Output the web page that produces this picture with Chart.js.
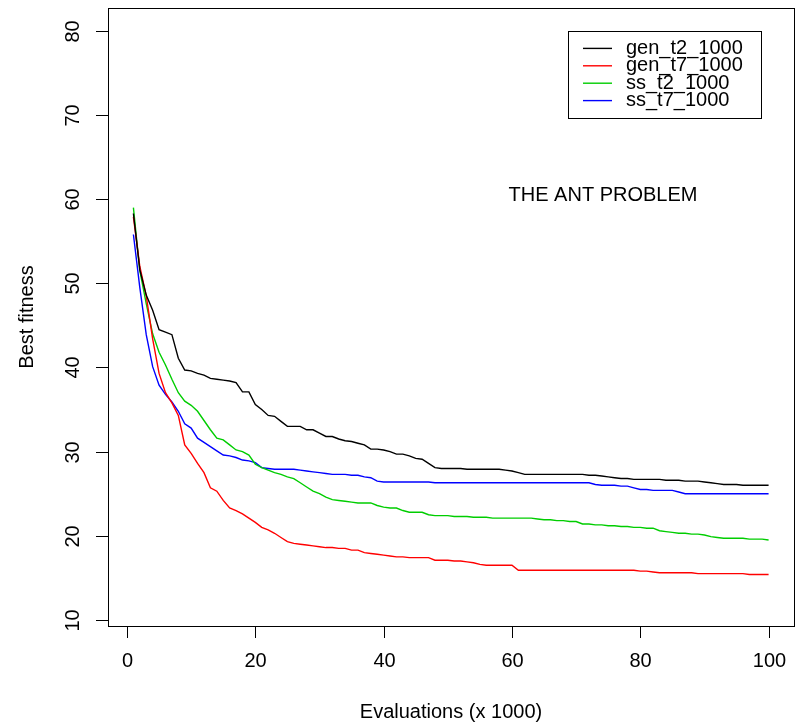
<!DOCTYPE html>
<html lang="en">
<head>
  <meta charset="UTF-8">
  <title>The Ant Problem - best fitness</title>
  <script src="https://cdn.jsdelivr.net/npm/chart.js"></script>
  <style>
    html, body { margin: 0; padding: 0; background: #ffffff; }
    #wrap { width: 796px; height: 724px; }
  </style>
</head>
<body>
  <div id="wrap">
    <canvas id="fitnessChart" width="796" height="724"></canvas>
  </div>

  <script>
    // Evaluations (x 1000) at which the best fitness was recorded
    const evaluations = [
      1, 2, 3, 4, 5, 6, 7, 8, 9, 10, 11, 12, 13, 14, 15, 16, 17, 18, 19, 20,
      21, 22, 23, 24, 25, 26, 27, 28, 29, 30, 31, 32, 33, 34, 35, 36, 37, 38, 39, 40,
      41, 42, 43, 44, 45, 46, 47, 48, 49, 50, 51, 52, 53, 54, 55, 56, 57, 58, 59, 60,
      61, 62, 63, 64, 65, 66, 67, 68, 69, 70, 71, 72, 73, 74, 75, 76, 77, 78, 79, 80,
      81, 82, 83, 84, 85, 86, 87, 88, 89, 90, 91, 92, 93, 94, 95, 96, 97, 98, 99, 100
    ];

    const genT2 = [
      58.3, 51.6, 48.6, 46.8, 44.5, 44.2, 43.9, 41.1, 39.7, 39.6,
      39.3, 39.1, 38.7, 38.6, 38.5, 38.4, 38.2, 37.1, 37.1, 35.6,
      35.0, 34.3, 34.2, 33.6, 33.0, 33.0, 33.0, 32.6, 32.6, 32.2,
      31.8, 31.8, 31.5, 31.3, 31.2, 31.0, 30.8, 30.3, 30.3, 30.2,
      30.0, 29.7, 29.7, 29.5, 29.2, 29.1, 28.6, 28.1, 28.0, 28.0,
      28.0, 28.0, 27.9, 27.9, 27.9, 27.9, 27.9, 27.9, 27.8, 27.7,
      27.5, 27.3, 27.3, 27.3, 27.3, 27.3, 27.3, 27.3, 27.3, 27.3,
      27.3, 27.2, 27.2, 27.1, 27.0, 26.9, 26.8, 26.8, 26.7, 26.7,
      26.7, 26.7, 26.7, 26.6, 26.6, 26.6, 26.5, 26.5, 26.5, 26.4,
      26.3, 26.2, 26.1, 26.1, 26.1, 26.0, 26.0, 26.0, 26.0, 26.0
    ];

    const genT7 = [
      57.9, 52.0, 48.5, 43.4, 39.3, 37.0, 35.8, 34.3, 30.8, 29.8,
      28.6, 27.5, 25.7, 25.3, 24.2, 23.3, 23.0, 22.6, 22.1, 21.6,
      21.0, 20.7, 20.3, 19.8, 19.3, 19.1, 19.0, 18.9, 18.8, 18.7,
      18.6, 18.6, 18.5, 18.5, 18.3, 18.3, 18.0, 17.9, 17.8, 17.7,
      17.6, 17.5, 17.5, 17.4, 17.4, 17.4, 17.4, 17.1, 17.1, 17.1,
      17.0, 17.0, 16.9, 16.8, 16.6, 16.5, 16.5, 16.5, 16.5, 16.5,
      15.9, 15.9, 15.9, 15.9, 15.9, 15.9, 15.9, 15.9, 15.9, 15.9,
      15.9, 15.9, 15.9, 15.9, 15.9, 15.9, 15.9, 15.9, 15.9, 15.8,
      15.8, 15.7, 15.6, 15.6, 15.6, 15.6, 15.6, 15.6, 15.5, 15.5,
      15.5, 15.5, 15.5, 15.5, 15.5, 15.5, 15.4, 15.4, 15.4, 15.4
    ];

    const ssT2 = [
      59.0, 51.5, 47.6, 44.0, 41.8, 40.3, 38.6, 37.0, 36.0, 35.5,
      34.8, 33.7, 32.6, 31.6, 31.4, 30.8, 30.2, 30.0, 29.6, 28.5,
      28.1, 27.8, 27.5, 27.3, 27.0, 26.8, 26.3, 25.8, 25.3, 25.0,
      24.6, 24.3, 24.2, 24.1, 24.0, 23.9, 23.9, 23.9, 23.6, 23.4,
      23.3, 23.3, 23.0, 22.8, 22.8, 22.8, 22.5, 22.4, 22.4, 22.4,
      22.3, 22.3, 22.3, 22.2, 22.2, 22.2, 22.1, 22.1, 22.1, 22.1,
      22.1, 22.1, 22.1, 22.0, 21.9, 21.9, 21.8, 21.8, 21.7, 21.7,
      21.4, 21.4, 21.3, 21.3, 21.2, 21.2, 21.1, 21.1, 21.0, 21.0,
      20.9, 20.9, 20.6, 20.5, 20.4, 20.3, 20.3, 20.2, 20.2, 20.1,
      19.9, 19.8, 19.7, 19.7, 19.7, 19.7, 19.6, 19.6, 19.6, 19.5
    ];

    const ssT7 = [
      55.8, 49.5, 43.9, 40.1, 37.9, 36.8, 35.9, 34.8, 33.3, 32.8,
      31.6, 31.1, 30.6, 30.1, 29.6, 29.5, 29.3, 29.0, 28.9, 28.7,
      28.1, 28.0, 27.9, 27.9, 27.9, 27.9, 27.8, 27.7, 27.6, 27.5,
      27.4, 27.3, 27.3, 27.3, 27.2, 27.2, 27.0, 26.9, 26.5, 26.4,
      26.4, 26.4, 26.4, 26.4, 26.4, 26.4, 26.4, 26.3, 26.3, 26.3,
      26.3, 26.3, 26.3, 26.3, 26.3, 26.3, 26.3, 26.3, 26.3, 26.3,
      26.3, 26.3, 26.3, 26.3, 26.3, 26.3, 26.3, 26.3, 26.3, 26.3,
      26.3, 26.3, 26.1, 26.0, 26.0, 26.0, 25.9, 25.9, 25.7, 25.5,
      25.5, 25.4, 25.4, 25.4, 25.4, 25.2, 25.0, 25.0, 25.0, 25.0,
      25.0, 25.0, 25.0, 25.0, 25.0, 25.0, 25.0, 25.0, 25.0, 25.0
    ];

    const seriesNames = ['gen_t2_1000', 'gen_t7_1000', 'ss_t2_1000', 'ss_t7_1000'];
    const seriesColors = ['#000000', '#ff0000', '#00cd00', '#0000ff'];
    const xTicks = [0, 20, 40, 60, 80, 100];
    const yTicks = [10, 20, 30, 40, 50, 60, 70, 80];

    const FONT = '20px "Liberation Sans", Arial, sans-serif';

    // box, axes, titles, annotation and legend drawn the way base R graphics does
    const rAxesPlugin = {
      id: 'rAxes',
      afterDraw(chart) {
        const { ctx, chartArea: a, scales } = chart;
        const xs = scales.x, ys = scales.y;
        ctx.save();
        ctx.strokeStyle = '#000';
        ctx.fillStyle = '#000';
        ctx.lineWidth = 1;
        ctx.font = FONT;

        ctx.strokeRect(Math.round(a.left) + 0.5, Math.round(a.top) + 0.5,
          Math.round(a.right - a.left), Math.round(a.bottom - a.top));

        // x axis
        ctx.textAlign = 'center';
        ctx.textBaseline = 'middle';
        xTicks.forEach(v => {
          const x = Math.round(xs.getPixelForValue(v)) + 0.5;
          ctx.beginPath();
          ctx.moveTo(x, a.bottom + 1);
          ctx.lineTo(x, a.bottom + 12);
          ctx.stroke();
          ctx.fillText(String(v), x, a.bottom + 35);
        });
        ctx.fillText('Evaluations (x 1000)', (a.left + a.right) / 2, a.bottom + 86);

        // y axis, labels turned like las = 0
        yTicks.forEach(v => {
          const y = Math.round(ys.getPixelForValue(v)) + 0.5;
          ctx.beginPath();
          ctx.moveTo(a.left - 12, y);
          ctx.lineTo(a.left, y);
          ctx.stroke();
          ctx.save();
          ctx.translate(a.left - 35, y);
          ctx.rotate(-Math.PI / 2);
          ctx.fillText(String(v), 0, 0);
          ctx.restore();
        });
        ctx.save();
        ctx.translate(27, (a.top + a.bottom) / 2);
        ctx.rotate(-Math.PI / 2);
        ctx.fillText('Best fitness', 0, 0);
        ctx.restore();

        ctx.fillText('THE ANT PROBLEM', 603, 195);

        // legend
        const lx = 568, ly = 31, lw = 193, lh = 87, rowH = 17.4;
        ctx.fillStyle = '#fff';
        ctx.fillRect(lx, ly, lw, lh);
        ctx.strokeRect(lx + 0.5, ly + 0.5, lw, lh);
        ctx.textAlign = 'left';
        seriesNames.forEach((name, i) => {
          const y = ly + rowH * (i + 1);
          ctx.strokeStyle = seriesColors[i];
          ctx.lineWidth = 1.4;
          ctx.beginPath();
          ctx.moveTo(583, y);
          ctx.lineTo(612, y);
          ctx.stroke();
          ctx.fillStyle = '#000';
          ctx.fillText(name, 626, y);
        });
        ctx.restore();
      }
    };

    const seriesData = [genT2, genT7, ssT2, ssT7];

    new Chart(document.getElementById('fitnessChart'), {
      type: 'line',
      data: {
        labels: evaluations,
        datasets: seriesData.map((values, i) => ({
          label: seriesNames[i],
          data: values,
          borderColor: seriesColors[i],
          borderWidth: 1.4,
          pointRadius: 0,
          tension: 0,
          fill: false
        }))
      },
      options: {
        responsive: false,
        animation: false,
        layout: { padding: { left: 108, right: 2, top: 8, bottom: 98 } },
        plugins: {
          legend: { display: false },
          tooltip: { enabled: false }
        },
        scales: {
          x: { type: 'linear', min: -2.96, max: 103.96, display: false },
          y: { min: 9.28, max: 82.72, display: false }
        }
      },
      plugins: [rAxesPlugin]
    });
  </script>
</body>
</html>
